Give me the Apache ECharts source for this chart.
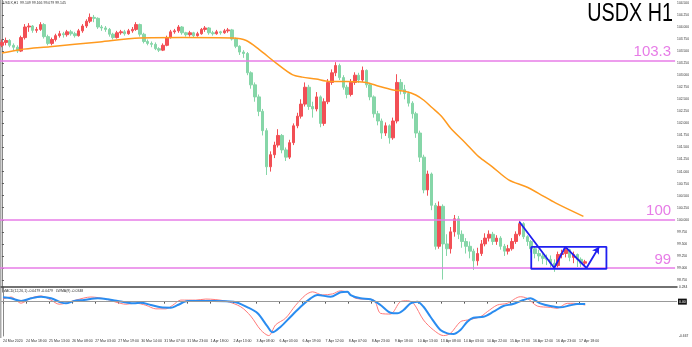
<!DOCTYPE html>
<html><head><meta charset="utf-8">
<script src="https://cdn.jsdelivr.net/npm/echarts@6/dist/echarts.min.js"></script>
<style>html,body{margin:0;padding:0;background:#fff}#c{width:692px;height:347px}</style>
</head><body><div id="c"></div>
<script>
// ---- data (USDX, H1) ----
const opens = [
103.62,103.68,103.72,103.62,103.58,103.50,103.78,104.00,104.02,103.93,
103.95,104.05,103.80,103.66,103.74,103.82,103.86,103.84,103.90,103.86,
103.82,103.92,104.02,104.12,104.20,104.18,104.00,103.98,103.95,103.85,
103.78,103.88,103.90,103.86,103.92,103.95,104.05,103.85,103.70,103.66,
103.64,103.55,103.52,103.62,103.78,103.90,103.92,104.00,103.88,103.84,
103.88,103.82,103.86,103.95,103.98,103.88,103.86,103.90,103.88,103.92,
103.94,103.75,103.60,103.48,103.45,103.05,102.80,102.55,102.25,101.85,
101.10,101.35,101.55,101.75,101.45,101.30,101.60,101.95,102.15,102.40,
102.75,102.35,102.30,102.55,102.00,102.45,102.85,103.05,103.20,102.95,
102.75,102.60,102.85,103.00,102.90,103.10,102.80,102.55,102.20,102.05,
101.80,101.95,101.70,102.05,102.85,102.70,102.62,102.42,102.20,101.80,
101.30,100.62,100.95,100.30,99.45,100.28,99.50,99.40,99.75,100.02,
99.70,99.55,99.45,99.35,99.15,99.30,99.50,99.62,99.70,99.55,
99.62,99.45,99.35,99.40,99.55,99.70,99.92,99.65,99.55,99.40,
99.30,99.25,99.20,99.18,99.10,99.05,99.28,99.30,99.38,99.22,
99.28,99.18,99.10];
const closes = [
103.68,103.72,103.62,103.58,103.50,103.78,104.00,104.02,103.93,103.95,
104.05,103.80,103.66,103.74,103.82,103.86,103.84,103.90,103.86,103.82,
103.92,104.02,104.12,104.20,104.18,104.00,103.98,103.95,103.85,103.78,
103.88,103.90,103.86,103.92,103.95,104.05,103.85,103.70,103.66,103.64,
103.55,103.52,103.62,103.78,103.90,103.92,104.00,103.88,103.84,103.88,
103.82,103.86,103.95,103.98,103.88,103.86,103.90,103.88,103.92,103.94,
103.75,103.60,103.48,103.45,103.05,102.80,102.55,102.25,101.85,101.10,
101.35,101.55,101.75,101.45,101.30,101.60,101.95,102.15,102.40,102.75,
102.35,102.30,102.55,102.00,102.45,102.85,103.05,103.20,102.95,102.75,
102.60,102.85,103.00,102.90,103.10,102.80,102.55,102.20,102.05,101.80,
101.95,101.70,102.05,102.85,102.70,102.62,102.42,102.20,101.80,101.30,
100.62,100.95,100.30,99.45,100.28,99.50,99.40,99.75,100.02,99.70,
99.55,99.45,99.35,99.15,99.30,99.50,99.62,99.70,99.55,99.62,
99.45,99.35,99.40,99.55,99.70,99.92,99.65,99.55,99.40,99.30,
99.25,99.20,99.18,99.10,99.05,99.28,99.30,99.38,99.22,99.28,
99.18,99.10,99.13];
const lows = [
103.58,103.62,103.58,103.52,103.46,103.48,103.74,103.90,103.88,103.88,
103.92,103.76,103.62,103.62,103.70,103.78,103.78,103.80,103.82,103.78,
103.80,103.88,103.98,104.08,104.10,103.96,103.92,103.90,103.80,103.74,
103.76,103.84,103.82,103.84,103.88,103.92,103.80,103.66,103.62,103.58,
103.52,103.48,103.50,103.60,103.76,103.86,103.88,103.84,103.80,103.80,
103.78,103.80,103.84,103.90,103.84,103.82,103.84,103.84,103.86,103.88,
103.72,103.56,103.42,103.36,103.00,102.72,102.45,102.15,101.75,100.93,
101.00,101.28,101.50,101.38,101.22,101.26,101.55,101.90,102.10,102.35,
102.28,102.12,102.25,101.92,101.95,102.40,102.80,102.98,102.90,102.70,
102.52,102.56,102.80,102.84,102.86,102.74,102.48,102.12,101.96,101.68,
101.74,101.58,101.66,102.00,102.60,102.50,102.35,102.10,101.70,101.20,
100.55,100.50,100.20,99.38,99.40,98.76,99.25,99.30,99.65,99.60,
99.42,99.30,99.20,98.96,99.05,99.25,99.45,99.55,99.48,99.48,
99.38,99.25,99.28,99.36,99.50,99.66,99.60,99.46,99.32,99.20,
99.14,99.08,99.06,99.00,98.92,99.00,99.20,99.22,99.14,99.10,
99.02,99.02,99.06];
const highs = [
103.74,103.78,103.75,103.66,103.62,103.82,104.06,104.08,104.04,104.00,
104.10,104.08,103.84,103.78,103.86,103.92,103.90,103.94,103.94,103.90,
103.96,104.06,104.16,104.28,104.25,104.20,104.04,104.02,103.98,103.88,
103.92,103.94,103.94,103.96,104.00,104.10,104.07,103.88,103.74,103.70,
103.68,103.58,103.66,103.82,103.94,103.96,104.04,104.02,103.90,103.92,
103.90,103.90,103.98,104.02,104.00,103.92,103.94,103.92,103.96,103.98,
103.96,103.78,103.62,103.52,103.48,103.08,102.85,102.60,102.30,101.90,
101.42,101.62,101.88,101.78,101.50,101.66,102.00,102.22,102.50,102.85,
102.80,102.45,102.65,102.58,102.52,102.92,103.12,103.27,103.24,103.00,
102.80,102.92,103.06,103.05,103.18,103.12,102.84,102.58,102.26,102.10,
102.02,101.98,102.12,103.02,102.92,102.80,102.66,102.46,102.24,101.85,
101.35,101.02,100.98,100.35,100.38,100.32,99.70,99.85,100.10,100.08,
99.78,99.62,99.55,99.40,99.42,99.58,99.72,99.78,99.75,99.68,
99.66,99.50,99.48,99.62,99.76,99.98,99.95,99.68,99.58,99.45,
99.38,99.30,99.28,99.26,99.18,99.34,99.38,99.42,99.40,99.34,
99.30,99.22,99.17];

// moving average (orange) read at bar positions
const maIdx = [0,4.7,12.5,25.5,35.9,47.1,60.1,63.7,67.1,71.5,75.7,78.3,81.9,85.3,89.7,94.9,98.3,101.7,105.3,107.9,110,112.1,114.7,117,120.9,124.3,127.7,132.1,136.5,139.9,144.3,151.6];
const maVal = [103.46,103.53,103.59,103.69,103.77,103.78,103.77,103.72,103.53,103.25,103.01,102.96,102.92,102.87,102.87,102.85,102.77,102.70,102.66,102.59,102.48,102.33,102.14,101.90,101.59,101.31,101.11,100.83,100.69,100.55,100.35,100.07];

// MACD panel (blue main line, thin red line)
const macdIdx = [0,2.1,4.7,7.3,9.9,12.5,15.1,16.4,18.5,21.1,24.7,27.3,29.9,32.5,34.1,35.9,38.5,41.1,43.7,45.5,48.1,51.5,54.9,60.1,63.7,66.3,68.9,70.2,72.3,74.9,77.5,80.1,81.9,85.3,87.9,89.7,90.5,93.1,95.7,98.3,100.9,102.7,104.3,106.1,107.9,109.5,111.3,113.9,115.7,117.3,119.1,120.9,122.5,125.1,127.7,130.3,132.8,135.5,137.3,139.9,142.5,145.1,147.7,149.5,151.6];
const macdVal = [0.083,0.064,0.012,0.064,0.095,0.064,-0.014,-0.033,0.012,0.031,0.064,0.045,0.012,-0.021,-0.033,-0.021,-0.066,-0.111,-0.118,-0.066,0.012,0.012,0.012,0,-0.111,-0.227,-0.487,-0.596,-0.487,-0.293,-0.099,0.064,0.128,0.095,0.181,0.192,0.128,0.064,0.045,-0.066,-0.216,-0.227,-0.163,-0.033,0,-0.099,-0.293,-0.551,-0.616,-0.629,-0.551,-0.39,-0.313,-0.293,-0.196,-0.085,-0.047,0.031,0.064,-0.033,-0.085,-0.111,-0.072,-0.047,-0.047];
const sigIdx = [0,2.1,4.7,7.3,9.9,12.5,14.6,16.4,19,22.9,26.8,29.4,32,34.6,37.2,39.8,42.4,44.2,46.3,50.2,52.8,58,61.9,64.5,67.1,69.2,71,73.6,76.2,78.8,80.6,83.2,85.8,87.9,90,91.8,96.5,98.3,100.9,103.5,105.3,106.9,109.5,112.1,114.7,116.5,119.1,120.9,124.3,126.1,128.7,131.3,134.7,136.5,139.1,142.5,144.3,146.9,148.5,151.6];
const sigVal = [0.05,0.09,-0.03,0.07,0.11,0.03,-0.05,-0.03,0.03,0.09,0.05,-0.01,-0.05,-0.03,-0.07,-0.14,-0.14,-0.07,0.03,0.03,0.05,0.01,-0.10,-0.28,-0.55,-0.66,-0.45,-0.32,-0.07,0.13,0.19,0.13,0.15,0.21,0.17,0.064,0.031,-0.227,-0.241,0,0.017,-0.033,-0.357,-0.551,-0.66,-0.616,-0.39,-0.357,-0.293,-0.196,-0.066,-0.033,0.095,0.064,-0.085,-0.111,-0.13,-0.033,-0.033,-0.066];

// time axis labels (one every 6 bars)
const timeLabels = ["24 Mar 2020","24 Mar 18:00","25 Mar 13:00","26 Mar 08:00","27 Mar 03:00","27 Mar 19:00","30 Mar 14:00","31 Mar 07:00","31 Mar 23:00","1 Apr 18:00","2 Apr 13:00","3 Apr 08:00","6 Apr 03:00","6 Apr 19:00","7 Apr 12:00","8 Apr 07:00","8 Apr 23:00","9 Apr 18:00","10 Apr 13:00","13 Apr 08:00","14 Apr 03:00","14 Apr 22:00","15 Apr 17:00","16 Apr 12:00","16 Apr 23:00","17 Apr 18:00"];

// horizontal levels and annotations
const levels = [103.3, 100, 99];
const levelLabels = ["103.3", "100", "99"];
const levelBoxes = ["103.300", "100.000", "99.000"];
const lastPrice = 99.134;
const boxIdx = [138, 157.6, 157.6, 138, 138];
const boxVal = [99.44, 99.44, 98.98, 98.98, 99.44];
const zigIdx = [134.9, 144, 146.9, 152.4, 155.7];
const zigVal = [99.96, 99.0, 99.44, 99.0, 99.44];
const priceMin = 98.5, priceMax = 104.56, priceStep = 0.25;
const macdMin = -0.667, macdMax = 0.284;

// ---- chart ----
const N = 176;
const LABEL_STEP = 6;
const xCats = Array.from({length: N}, (_, i) => (i % LABEL_STEP === 0 && i / LABEL_STEP < timeLabels.length) ? timeLabels[i / LABEL_STEP] : '');
const candleData = opens.map((o, i) => [o, closes[i], lows[i], highs[i]]);
const pairs = (xs, ys) => xs.map((x, i) => [x, ys[i]]);
const UP = '#f24f55', DOWN = '#86d6a8', LEVEL = '#e77ce7', BLUE = '#1f1ff0';
const FONT = 'Liberation Sans, Arial, sans-serif';
const zigData = pairs(zigIdx, zigVal).map((p, i, a) => i === a.length - 1 ? {value: p, symbol: 'arrow', symbolSize: [6, 7], symbolRotate: -32} : {value: p});

const chart = echarts.init(document.getElementById('c'), null, {renderer: 'canvas'});
chart.setOption({
  animation: false,
  backgroundColor: '#fff',
  textStyle: {fontFamily: FONT},
  grid: [
    {left: 0, right: 15, top: 0, height: 292.1},
    {left: 0, right: 15, top: 287, height: 49}
  ],
  xAxis: [
    {type: 'category', gridIndex: 0, data: xCats, boundaryGap: true, show: false},
    {type: 'value', gridIndex: 0, min: -0.5, max: N - 0.5, show: false},
    {type: 'category', gridIndex: 1, data: xCats, boundaryGap: true,
      axisLine: {show: false},
      axisTick: {show: true, alignWithLabel: true, interval: (i) => xCats[i] !== '', length: 2, lineStyle: {color: '#555'}},
      axisLabel: {interval: 0, align: 'left', fontSize: 3.5, margin: 3.5, color: '#333'},
      splitLine: {show: false}},
    {type: 'value', gridIndex: 1, min: -0.5, max: N - 0.5, position: 'top',
      axisLine: {show: true, lineStyle: {color: '#444', width: 1.5}},
      axisTick: {show: false}, axisLabel: {show: false}, splitLine: {show: false}}
  ],
  yAxis: [
    {type: 'value', gridIndex: 0, position: 'right', min: priceMin, max: priceMax, interval: priceStep,
      axisLine: {show: true, lineStyle: {color: '#888'}},
      axisTick: {show: true, length: 2, lineStyle: {color: '#555'}},
      axisLabel: {fontSize: 3.3, margin: 2, color: '#333', formatter: v => v.toFixed(3), showMinLabel: false, showMaxLabel: false},
      splitLine: {show: false}},
    {type: 'value', gridIndex: 1, position: 'right', min: macdMin, max: macdMax,
      axisLine: {show: true, lineStyle: {color: '#888'}},
      axisTick: {show: false},
      axisLabel: {fontSize: 3.3, margin: 2, color: '#333',
        formatter: v => (Math.abs(v - macdMax) < 1e-6 || Math.abs(v - macdMin) < 1e-6) ? v.toFixed(3) : ''},
      splitLine: {show: false}}
  ],
  series: [
    {type: 'candlestick', xAxisIndex: 0, yAxisIndex: 0, data: candleData, barWidth: 3,
      itemStyle: {color: UP, color0: DOWN, borderColor: UP, borderColor0: DOWN, borderWidth: 1},
      markLine: {silent: true, symbol: ['none', 'none'], animation: false,
        lineStyle: {color: LEVEL, width: 1.5, type: 'solid'},
        label: {position: 'insideEndTop', distance: [4, 1], fontSize: 15, color: LEVEL},
        data: levels.map((v, i) => ({yAxis: v, label: {formatter: levelLabels[i]}}))}},
    {type: 'line', xAxisIndex: 1, yAxisIndex: 0, data: pairs(maIdx, maVal), smooth: 0.3, showSymbol: false, z: 5,
      lineStyle: {color: '#ff9a1f', width: 1.5},
      markLine: {silent: true, symbol: ['none', 'none'], animation: false,
        lineStyle: {opacity: 0},
        label: {position: 'end', distance: 1, fontSize: 3.5, color: '#fff', padding: [1, 1]},
        data: levels.map((v, i) => ({yAxis: v, label: {formatter: levelBoxes[i], backgroundColor: LEVEL}}))
          .concat([{yAxis: lastPrice, label: {formatter: lastPrice.toFixed(3), backgroundColor: '#000'}}])}},
    {type: 'line', xAxisIndex: 1, yAxisIndex: 0, data: pairs(boxIdx, boxVal), showSymbol: false, z: 6,
      lineStyle: {color: BLUE, width: 1.8}},
    {type: 'line', xAxisIndex: 1, yAxisIndex: 0, data: zigData, symbol: 'none', showSymbol: true, z: 6,
      itemStyle: {color: BLUE}, lineStyle: {color: BLUE, width: 1.8}},
    {type: 'line', xAxisIndex: 3, yAxisIndex: 1, data: pairs(sigIdx, sigVal), smooth: 0.3, showSymbol: false, z: 3,
      lineStyle: {color: '#ff7a7a', width: 1}},
    {type: 'line', xAxisIndex: 3, yAxisIndex: 1, data: pairs(macdIdx, macdVal), smooth: 0.3, showSymbol: false, z: 4,
      lineStyle: {color: '#2a8cf0', width: 2},
      markLine: {silent: true, symbol: ['none', 'none'], animation: false,
        lineStyle: {color: '#999', width: 1, type: 'solid'},
        label: {position: 'end', distance: 1, fontSize: 3.5, color: '#fff', backgroundColor: '#111', padding: [1, 1], formatter: '0.00'},
        data: [{yAxis: 0}]}}
  ],
  graphic: [
    {type: 'line', shape: {x1: 0.75, y1: 0, x2: 0.75, y2: 338}, style: {stroke: '#aaa', lineWidth: 1.5}},
    {type: 'text', x: 673, y: 1, scaleX: 0.76, style: {text: 'USDX H1', fontSize: 26, fill: '#000', textAlign: 'right', textVerticalAlign: 'top', fontFamily: FONT}},
    {type: 'text', left: 3, top: 1.5, style: {text: 'USDX,H1  99.109 99.166 99.079 99.145', fontSize: 3.5, fill: '#333', fontFamily: FONT}},
    {type: 'text', left: 3, top: 289.5, style: {text: 'MACD(12,26,1) -0.0479 -0.0479   LWMA(9) -0.0348', fontSize: 3.5, fill: '#333', fontFamily: FONT}}
  ]
});
</script>
</body></html>
